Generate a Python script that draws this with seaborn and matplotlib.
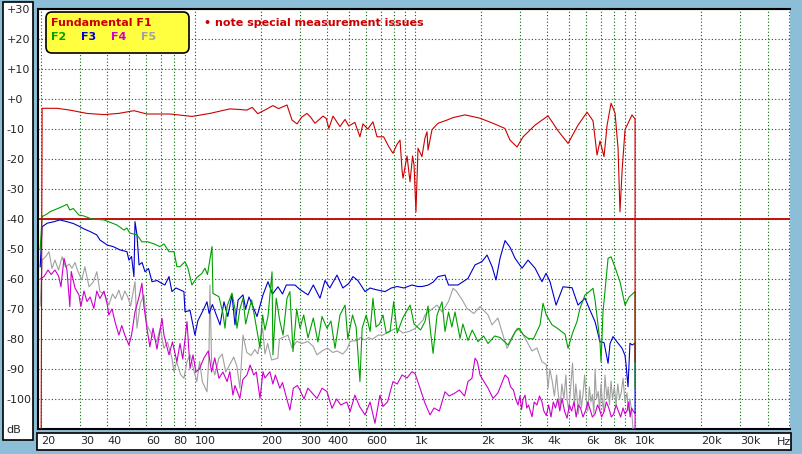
import matplotlib
matplotlib.use("Agg")
import matplotlib.pyplot as plt
from matplotlib.patches import Rectangle, FancyBboxPatch
from matplotlib.ticker import NullFormatter
import pandas as pd
import seaborn as sns

# ---------------------------------------------------------------- data
# fundamental F1
f1_freq = [20, 20.2, 23.6, 27, 32.3, 38.6, 45, 52.8, 60.5, 77, 97, 117, 144, 160, 172, 182, 193, 210, 226, 240,
           262, 276, 291, 306, 323, 335, 351, 382, 395, 406, 424, 456, 481, 500, 533, 562, 580, 610, 644, 672,
           720, 760, 794, 830, 855, 873, 882, 920, 949, 975, 990, 1010, 1032, 1075, 1110, 1134, 1146, 1195, 1272,
           1400, 1489, 1690, 1975, 2262, 2560, 2702, 2908, 3100, 3513, 4023, 4467, 4961, 5506, 6053, 6442, 6719,
           6930, 7228, 7464, 7780, 8110, 8370, 8540, 8730, 9005, 9687, 10000, 10000]
f1_db = [-110, -3.1, -3.1, -3.7, -4.8, -5.2, -4.8, -3.9, -5.0, -5.0, -5.8, -4.8, -3.3, -3.5, -3.7, -2.8, -4.9, -3.5,
         -2.2, -3.2, -2.0, -7.0, -8.3, -6.0, -4.8, -6.0, -8.1, -5.7, -6.5, -9.8, -5.7, -9.2, -6.8, -9.0, -7.8, -12.6,
         -8.3, -10.0, -7.6, -12.6, -12.6, -15.9, -18.1, -15.0, -13.7, -23.7, -26.4, -19.0, -27.6, -19.0, -22.0,
         -37.6, -16.4, -19.2, -13.0, -10.9, -17.0, -10.2, -8.1, -7.0, -6.2, -5.3, -6.4, -8.1, -9.8, -13.7, -16.0,
         -12.6, -8.7, -5.6, -10.6, -14.8, -8.7, -4.4, -7.3, -18.7, -14.0, -19.2, -8.7, -1.4, -4.7, -16.4, -37.6,
         -24.0, -10.2, -5.3, -6.7, -87.6]

# 2nd harmonic F2
f2_freq = [19.8, 20.2, 21.3, 21.9, 23.6, 24.9, 26.2, 27, 28, 29.7, 31, 34, 38.6, 44.2, 47.6, 49, 50.6, 54.5, 57.4,
           61, 65.1, 69.3, 72.3, 76.2, 80.3, 82.8, 85.5, 90.1, 93, 96.9, 102, 107.6, 111, 114, 119.5, 120.7, 128.5,
           134, 136.9, 140, 147.3, 152, 155.2, 160, 165.3, 170, 175, 181, 197.5, 203, 208, 214.7, 224, 226.1, 234,
           243, 251.4, 262, 270, 279, 290, 300, 312, 326.4, 345, 362, 378, 398, 415, 433, 456, 481, 495, 520, 540,
           562, 575, 600, 625, 644, 665, 690, 715, 740, 770, 800, 830, 880, 950, 990, 1060, 1110, 1146, 1170, 1208,
           1259, 1327, 1369, 1420, 1470, 1520, 1602, 1650, 1741, 1820, 1933, 2050, 2147, 2300, 2434, 2647, 2848,
           2970, 3100, 3263, 3450, 3700, 3817, 3950, 4197, 4450, 4806, 4961, 5200, 5446, 5620, 5925, 6200, 6442,
           6580, 6928, 7004, 7150, 7540, 7780, 8100, 8540, 9005, 9400, 10000, 10000]
f2_db = [-50, -39.2, -38.3, -37.6, -36.6, -35.9, -35.1, -37, -36.5, -38.7, -38.9, -40, -40.3, -42, -43.7, -43, -44.7,
         -45.3, -47.6, -47.6, -48.3, -49.2, -48.3, -50.9, -50.9, -55.9, -55.9, -54.2, -56.5, -62, -59.5, -58.1, -56.4,
         -58.5, -49.2, -64.8, -65.9, -71.4, -76.4, -69, -64.7, -70, -76.4, -70, -66.4, -75, -71, -67, -83, -72, -77,
         -72.5, -57.6, -85.3, -66.4, -74, -78.7, -66.4, -64.2, -84.2, -70, -76.4, -72, -79.6, -73, -81, -72.5, -76.4,
         -74, -83.1, -72, -68.7, -80, -72, -76, -94.2, -76.4, -72, -77.5, -66.4, -76, -75, -72, -78, -77.5, -67.6,
         -78, -73, -68.7, -75, -77, -74.2, -69, -76, -84.8, -72, -67.6, -77.5, -71, -76, -71, -79.8, -75, -80.5, -77,
         -80.9, -79, -81.5, -79, -79.5, -82, -77.6, -76.4, -78.5, -79.8, -80, -75.3, -68.1, -72, -75.3, -76.5, -78.4,
         -83.1, -78, -74.2, -69.8, -65.3, -64.2, -63.1, -67, -80.9, -87.6, -71, -53.1, -52.6, -56, -60.9, -68.7, -66,
         -64.2, -96.4]

# 3rd harmonic F3
f3_freq = [19.8, 20.2, 21.3, 22.9, 24.3, 26.2, 28, 29.7, 31.3, 33.4, 35.8, 37, 40, 42.5, 45.6, 49.1, 50.1, 51.5,
           52.8, 53.4, 54.5, 55.7, 57.5, 59.3, 61.5, 63.8, 67.2, 70.8, 73, 76.2, 78.6, 82, 89.1, 90.1, 95, 100, 103,
           109.9, 113.4, 116, 120, 130, 135.5, 141, 147.3, 152, 157, 165.3, 170, 176, 191.4, 203.8, 214.7, 225,
           238.4, 250, 260, 284.8, 300, 326.4, 345, 370, 390, 410, 442, 470, 500, 522.5, 550, 593, 625, 660, 730.6,
           780, 830, 890, 968, 1030, 1080, 1150, 1210, 1272, 1369, 1420, 1568, 1741, 1874, 2017, 2125, 2240, 2334,
           2434, 2565, 2702, 2848, 3065, 3263, 3513, 3776, 3940, 4107, 4376, 4706, 5172, 5506, 5925, 6250, 6579,
           6928, 7228, 7540, 7700, 7943, 8370, 8730, 9005, 9100, 9290, 9480, 9700, 10000, 10000]
f3_db = [-56, -42.6, -41.4, -40.9, -40.3, -40.9, -41.5, -42.4, -43.3, -44.2, -45.3, -47, -48.7, -49.2, -50.3, -50.9,
         -53.7, -52.5, -59.2, -40.9, -45.3, -55.3, -54.5, -57.6, -56.5, -60.9, -60.5, -61.5, -62, -59.2, -64.2, -63,
         -64.2, -70.9, -70.5, -78.7, -74, -69.8, -67.6, -71.5, -68.5, -75.3, -67.6, -72.5, -65.3, -75.3, -67, -65.3,
         -70, -66, -72.5, -65.3, -60.9, -65, -62.6, -65, -62, -62, -63.5, -65.3, -62, -66.4, -60.5, -63, -58.7, -63,
         -61.5, -59.2, -60.5, -64.2, -63, -63.5, -64.2, -63, -62.5, -63, -62, -62.5, -62.5, -62, -61, -59.2, -58.7,
         -62, -62, -59.8, -55.3, -54.2, -52, -55.9, -60.3, -53.1, -47.2, -49.4, -53.1, -56.4, -53.7, -56.4, -60.9,
         -58.1, -60.9, -68.7, -62.6, -62.9, -68.7, -66.4, -70.5, -74.2, -80.9, -81.2, -88.1, -81.5, -79.2, -81.4,
         -83.1, -85.5, -88.5, -95.9, -81.4, -82, -81.4, -104.8]

# 4th harmonic F4
f4_freq = [19.8, 20.6, 21.5, 22.2, 23.1, 24, 24.6, 25.4, 26.2, 27, 27.4, 28.5, 29.7, 30.3, 31.3, 32.3, 33.4, 34.7,
           35.8, 37, 38.6, 40, 40.6, 42, 43.3, 45.1, 46.5, 48, 50.1, 51.5, 53.4, 55.7, 57.4, 58.6, 60.5, 62.4, 64.5,
           67.2, 70.8, 72.3, 76.2, 79, 82.8, 85.5, 88, 92, 95, 98, 101, 105, 109.9, 115, 119, 123, 128.5, 134, 140,
           144, 148.8, 152, 160, 165, 172.3, 178, 185, 190, 197.5, 203.8, 208, 219, 226, 232, 243, 250, 256, 270,
           280, 292, 300, 313, 326, 358.5, 378, 398, 419.5, 440, 460, 490, 507, 533, 560, 593, 625, 657.7, 693, 715,
           750, 794, 830, 873, 920, 968, 1000, 1054, 1110, 1170, 1220, 1290, 1327, 1369, 1430, 1520, 1590, 1680,
           1741, 1815, 1874, 1920, 1975, 2050, 2147, 2262, 2380,
           2565, 2650, 2720, 2800, 2870, 2939, 3000, 3050, 3100, 3162, 3220, 3280, 3340, 3404, 3480, 3580, 3680,
           3776, 3850, 3950, 4050, 4150, 4250, 4350, 4450, 4550, 4659, 4780, 4909, 5030, 5150, 5280, 5400, 5520,
           5650, 5800, 5950, 6100, 6250, 6400, 6580, 6750, 6900, 7050, 7250, 7400, 7600, 7800, 8000, 8200, 8400,
           8600, 8820, 9000, 9195, 9350, 9500, 9650, 9800, 10000, 10000]
f4_db = [-60, -59.2, -57, -58.5, -57, -59, -62.6, -53.1, -57, -69.2, -57.5, -63, -65.3, -69.2, -64, -67.5, -66, -69.8,
         -64, -66.5, -64, -68.7, -72, -70, -74.2, -78.7, -75.5, -78.7, -82, -78.7, -70.9, -66, -61.4, -69, -76.4,
         -82.6, -76.4, -83.4, -73.1, -78.7, -85.3, -81, -87.6, -81.5, -86.7, -74.2, -89.8, -85.3, -91, -89.8, -86.3,
         -84, -91, -86.3, -93.1, -91, -94.2, -90.9, -98.7, -95.5, -99.8, -93.5, -92, -88.7, -92, -91, -99.8, -90.9,
         -93, -90.9, -95, -92, -96.4, -94.5, -97.5, -103.7, -96.4, -95.5, -97, -100, -96.4, -99.8, -96.4, -97.5,
         -103.1, -100, -102, -101, -104.2, -98.7, -102.5, -105.3, -101, -108.1, -98.7, -102.5, -101, -94.2, -95, -92,
         -93, -90.9, -91.5, -96.4, -101.4, -105.3, -103, -104, -101, -97.6, -99, -98, -97, -99, -94.2, -93.1, -86.4,
         -87.5, -92, -94, -96.4, -99.8, -98,
         -92, -93, -96, -97, -100, -102, -99, -103.5, -100, -98.7, -103, -102, -104, -105.9, -101, -102, -99,
         -101, -104, -105.5, -102, -106, -101, -103, -100, -104, -99.8, -104, -106.4, -102, -104, -101, -106, -102,
         -103, -106, -104, -101, -103.5, -106, -105, -102, -103.5, -106, -104, -101, -103, -106, -105, -102, -104,
         -106, -103, -105, -103.9, -101, -106, -103, -104, -104.8, -110]

# 5th harmonic F5
f5_freq = [19.8, 20.2, 21, 21.7, 22.4, 23.1, 24, 24.9, 25.8, 26.8, 27.6, 28.5, 29.4, 30.6, 31.6, 33, 34.5, 35.8, 37,
           38.8, 40.6, 42.2, 43.5, 45.1, 46.5, 48, 49.5, 51, 53.4, 54.5, 56.5, 58.6, 60.5, 63.8, 67, 69.5, 72.3, 75,
           78.6, 80.3, 82.5, 86, 89.1, 92, 95, 98.5, 102, 105, 108, 113.4, 115.8, 117, 119, 123, 128.5, 133, 138, 144,
           150, 155, 160, 165.3, 172, 180, 187, 193, 203, 208, 214, 223, 238, 242, 264.7, 276, 290, 306, 326, 345,
           358.5, 378, 400, 423, 442, 470, 490, 507, 545, 565, 593, 615, 640, 680, 715.5, 760, 828, 880, 940, 1000,
           1087, 1110, 1195, 1259, 1327, 1420, 1489, 1540, 1640, 1722, 1850, 1975, 2147, 2239, 2380, 2485, 2620,
           2760, 2908, 3065, 3228, 3400, 3580, 3776, 3950,
           4023, 4100, 4200, 4300, 4400, 4467, 4560, 4650, 4750, 4850, 4909, 5000, 5100, 5200, 5300, 5380, 5446,
           5530, 5620, 5700, 5800, 5900, 6000, 6100, 6200, 6300, 6400, 6500, 6580, 6680, 6800, 6900, 7000, 7100,
           7200, 7300, 7450, 7550, 7650, 7780, 7900, 8050, 8200, 8350, 8500, 8650, 8820, 9000, 9195, 9300, 9480,
           9650, 9792]
f5_db = [-69, -53.7, -52.5, -50.9, -56.5, -53.7, -57, -52.6, -56, -55, -56.4, -54.5, -57.5, -60.3, -55.9, -62.6, -61,
         -57.6, -64.2, -65, -68.7, -65, -66.5, -63.7, -67, -64, -66, -69, -60.9, -76.4, -68, -65.3, -75.3, -78.7,
         -80.9, -76.4, -83.1, -81, -86.4, -90.9, -87.5, -91.8, -93.1, -87.5, -85.3, -90, -94.2, -87.5, -94.2, -97.6,
         -85.3, -62, -87.5, -92, -86.4, -85, -91, -88.5, -86, -89, -96.4, -78.7, -84.5, -85.5, -83.5, -85, -76.4,
         -85, -81.5, -87, -86.4, -80, -78.7, -83, -80.8, -81.5, -80.8, -82.5, -85.3, -84, -83, -84.5, -84, -85,
         -83.5, -80.8, -80.5, -79.5, -80.3, -79.5, -80.1, -78.7, -78.7, -77.5, -76.4, -78, -77.5, -76.5, -73.7, -72,
         -70, -68.7, -71, -67.5, -63.1, -64, -67, -69.8, -71.5, -69.2, -72, -75.3, -73, -77.6, -83.1, -80, -76.4,
         -78, -80.9, -84, -83, -87.6, -88.5,
         -96.4, -90, -94, -99, -92, -97.6, -103, -95, -100, -92, -100, -104, -96, -88, -102.5, -95, -99,
         -105, -97, -103, -98.5, -92, -100, -104, -96, -101, -98.5, -105, -90, -100, -97.5, -104, -95, -101,
         -104, -92, -100, -96, -102, -94, -100, -96, -102, -95, -100, -98, -93.1, -101, -98, -104, -100,
         -104, -110]

x_ticks = [20, 30, 40, 60, 80, 100, 200, 300, 400, 600, 1000, 2000, 3000, 4000, 6000, 8000, 10000, 20000, 30000]
x_labels = ["20", "30", "40", "60", "80", "100", "200", "300", "400", "600",
            "1k", "2k", "3k", "4k", "6k", "8k", "10k", "20k", "30k"]
x_grid = [20, 30, 40, 50, 60, 70, 80, 90, 100, 200, 300, 400, 500, 600, 700, 800, 900,
          1000, 2000, 3000, 4000, 5000, 6000, 7000, 8000, 9000, 10000, 20000, 30000, 40000, 50000]
y_ticks = [30, 20, 10, 0, -10, -20, -30, -40, -50, -60, -70, -80, -90, -100, -110]
y_labels = ["+30", "+20", "+10", "+0", "-10", "-20", "-30", "-40", "-50", "-60", "-70", "-80", "-90", "-100", "dB"]

# ---------------------------------------------------------------- style
BG = "#8dbed8"
GRID = "#006a00"
C_F1, C_F2, C_F3, C_F4, C_F5 = "#cc0000", "#00a000", "#0000cc", "#cc00cc", "#a0a0a0"

sns.set_style("white")
plt.rcParams["font.family"] = ["DejaVu Sans"]
plt.rcParams["font.size"] = 8

W, H = 803, 454
fig = plt.figure(figsize=(W / 100, H / 100), dpi=100)
fig.patch.set_facecolor(BG)


def frac(x0, y0, w, h):
    # pixel box (top-left origin) -> figure fraction
    return [x0 / W, 1 - (y0 + h) / H, w / W, h / H]


ax = fig.add_axes(frac(38, 9, 752, 420))
ax.set_facecolor("white")

# white label panels
fig.add_artist(Rectangle(frac(3, 2, 30, 438)[:2], 30 / W, 438 / H, transform=fig.transFigure,
                         facecolor="white", edgecolor="black", lw=1.2, zorder=-1))
fig.add_artist(Rectangle(frac(37, 433, 754, 17)[:2], 754 / W, 17 / H, transform=fig.transFigure,
                         facecolor="white", edgecolor="black", lw=1.2, zorder=-1))

ax.axhline(-40, color="#c00000", lw=1.3, zorder=1.5)

curves = [(f5_freq, f5_db, C_F5), (f4_freq, f4_db, C_F4), (f3_freq, f3_db, C_F3),
          (f2_freq, f2_db, C_F2), (f1_freq, f1_db, C_F1)]
for fr, db, col in curves:
    df = pd.DataFrame({"freq": fr, "db": db})
    sns.lineplot(data=df, x="freq", y="db", color=col, lw=0.8, estimator=None, sort=False, ax=ax, zorder=3)

ax.set_xscale("log")
ax.set_xlim(19.35, 50600)
ax.set_ylim(-110, 30)
ax.set_xlabel("")
ax.set_ylabel("")

ax.set_xticks(x_ticks)
ax.set_xticklabels(x_labels)
ax.set_xticks(x_grid, minor=True)
ax.xaxis.set_minor_formatter(NullFormatter())
ax.set_yticks(y_ticks)
ax.set_yticklabels(y_labels)
for t in ax.get_xticklabels():
    t.set_horizontalalignment("left")
for t in ax.get_yticklabels():
    t.set_horizontalalignment("left")
ax.tick_params(axis="x", which="both", length=0, pad=5, labelsize=8)
ax.tick_params(axis="y", which="both", length=0, pad=22.5, labelsize=8)

ax.grid(True, which="both", axis="x", color=GRID, linestyle=(0, (1, 2)), lw=0.8)
ax.grid(True, which="major", axis="y", color=GRID, linestyle=(0, (1, 2)), lw=0.8)
ax.set_axisbelow(True)

for s in ["top", "left", "bottom"]:
    ax.spines[s].set_visible(True)
    ax.spines[s].set_color("black")
    ax.spines[s].set_linewidth(1.5)
ax.spines["right"].set_visible(False)

fig.text(777 / W, 1 - 442 / H, "Hz", fontsize=8, va="center", ha="left")

# legend box
fig.add_artist(FancyBboxPatch((46, H - 53), 143, 41, boxstyle="round,pad=0,rounding_size=6",
                              transform=None, facecolor="#ffff40", edgecolor="black", lw=1.2, zorder=5))
fig.text(51 / W, 1 - 23 / H, "Fundamental F1", color=C_F1, fontsize=8, fontweight="bold", va="center", zorder=6)
for xp, lab, col in [(51, "F2", C_F2), (81, "F3", C_F3), (111, "F4", C_F4), (141, "F5", C_F5)]:
    fig.text(xp / W, 1 - 37 / H, lab, color=col, fontsize=8, fontweight="bold", va="center", zorder=6)

fig.text(204 / W, 1 - 23 / H, "\u2022 note special measurement issues", color=C_F1, fontsize=8,
         fontweight="bold", va="center")

fig.savefig("out.png", dpi=100, facecolor=BG)
